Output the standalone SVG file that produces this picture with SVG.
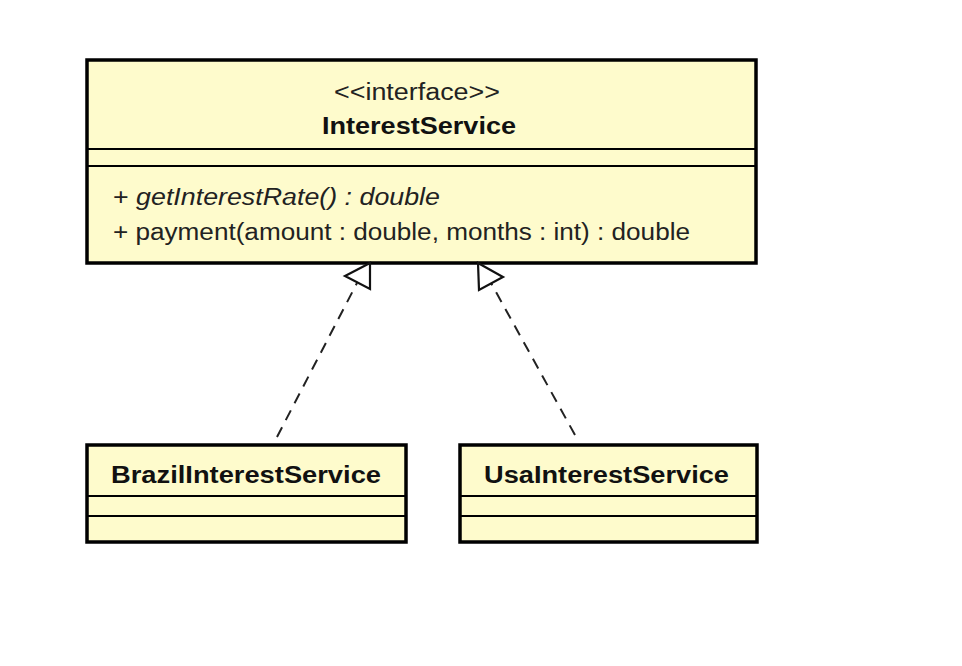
<svg xmlns="http://www.w3.org/2000/svg" width="962" height="666" viewBox="0 0 962 666">
<style>
.box{fill:#fefbcc;stroke:#000;stroke-width:3.5}
.sep{stroke:#000;stroke-width:2}
.t{font-family:"Liberation Sans",Arial,sans-serif;font-size:23px;fill:#222}
.b{font-weight:bold;fill:#111}
.i{font-style:italic}
.dash{stroke:#222;stroke-width:2;stroke-dasharray:11 8;fill:none}
.head{fill:#fff;stroke:#111;stroke-width:2.2;stroke-linejoin:miter}
</style>
<rect width="962" height="666" fill="#fff"/>
<g id="InterestService">
<rect class="box" x="87" y="60" width="669" height="203"/>
<line class="sep" x1="87" y1="149" x2="756" y2="149"/>
<line class="sep" x1="87" y1="166" x2="756" y2="166"/>
<text class="t" x="334" y="100" textLength="166" lengthAdjust="spacingAndGlyphs">&lt;&lt;interface&gt;&gt;</text>
<text class="t b" x="322" y="134" font-size="24" textLength="194" lengthAdjust="spacingAndGlyphs">InterestService</text>
<text class="t" x="113" y="205" textLength="327" lengthAdjust="spacingAndGlyphs">+ <tspan class="i">getInterestRate() : double</tspan></text>
<text class="t" x="113" y="240" textLength="577" lengthAdjust="spacingAndGlyphs">+ payment(amount : double, months : int) : double</text>
</g>
<g id="BrazilInterestService">
<rect class="box" x="87" y="445" width="319" height="97"/>
<line class="sep" x1="87" y1="496" x2="406" y2="496"/>
<line class="sep" x1="87" y1="516" x2="406" y2="516"/>
<text class="t b" x="111" y="483" textLength="270" lengthAdjust="spacingAndGlyphs">BrazilInterestService</text>
</g>
<g id="UsaInterestService">
<rect class="box" x="460" y="445" width="297" height="97"/>
<line class="sep" x1="460" y1="496" x2="757" y2="496"/>
<line class="sep" x1="460" y1="516" x2="757" y2="516"/>
<text class="t b" x="484" y="483" textLength="245" lengthAdjust="spacingAndGlyphs">UsaInterestService</text>
</g>
<g id="connectors">
<line class="dash" x1="277" y1="437" x2="357" y2="283"/>
<polygon class="head" points="370,263 345,276 370,289"/>
<line class="dash" x1="575" y1="435" x2="491" y2="283"/>
<polygon class="head" points="478,263 503,277 479,290"/>
</g>
</svg>
